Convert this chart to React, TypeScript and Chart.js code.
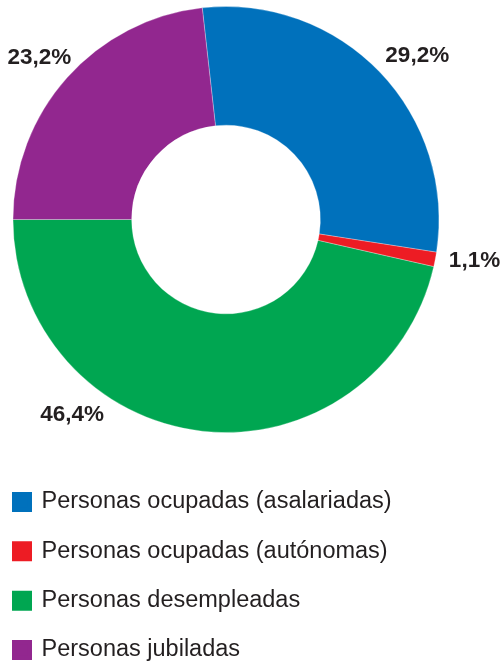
import React, { useEffect, useRef } from 'react';
import { Chart, registerables } from 'chart.js';

Chart.register(...registerables);

const categories = [
  'Personas ocupadas (asalariadas)',
  'Personas ocupadas (autónomas)',
  'Personas desempleadas',
  'Personas jubiladas',
];
const values = [29.2, 1.1, 46.4, 23.2];
const valueLabels = ['29,2%', '1,1%', '46,4%', '23,2%'];
const colors = ['#0071BC', '#ED1C24', '#00A651', '#92278F'];
// where each percentage label sits along its slice (fraction of the arc) and how far outside
const labelFractions = [0.53, 0.18, 0.69, 0.49];
const labelOffsets = [39, 39, 36, 34];

const FONT = '"Liberation Sans", Arial, Helvetica, sans-serif';
const TEXT_COLOR = '#231F20';

const outerLabels = {
  id: 'outerLabels',
  afterDatasetsDraw(chart: any) {
    const ctx = chart.ctx;
    const meta = chart.getDatasetMeta(0);
    ctx.save();
    ctx.font = `bold 22.5px ${FONT}`;
    ctx.fillStyle = TEXT_COLOR;
    ctx.textAlign = 'center';
    ctx.textBaseline = 'middle';
    meta.data.forEach((arc: any, i: number) => {
      const { x, y, startAngle, endAngle, outerRadius } = arc.getProps(
        ['x', 'y', 'startAngle', 'endAngle', 'outerRadius'],
        true
      );
      const a = startAngle + (endAngle - startAngle) * labelFractions[i];
      const r = outerRadius + labelOffsets[i];
      ctx.fillText(valueLabels[i], x + Math.cos(a) * r, y + Math.sin(a) * r);
    });
    ctx.restore();
  },
};

export default function App() {
  const ref = useRef<HTMLCanvasElement>(null);

  useEffect(() => {
    document.body.style.margin = '0';
    const chart = new Chart(ref.current as HTMLCanvasElement, {
      type: 'doughnut',
      data: {
        labels: categories,
        datasets: [
          {
            data: values,
            backgroundColor: colors,
            borderColor: 'rgba(255,255,255,0.7)',
            borderWidth: 0.4,
          },
        ],
      },
      options: {
        animation: false,
        responsive: true,
        maintainAspectRatio: false,
        radius: 213,
        cutout: '44.3%',
        rotation: -6.4,
        layout: {
          padding: { left: 8.42, right: 36.42, top: 4.58, bottom: 0.25 },
        },
        plugins: {
          tooltip: { enabled: false },
          legend: {
            position: 'bottom',
            align: 'start',
            labels: {
              boxWidth: 15.5,
              boxHeight: 15.5,
              padding: 25.83,
              color: TEXT_COLOR,
              font: { size: 23.5, family: FONT },
              generateLabels: () =>
                categories.map((c, i) => ({
                  text: c,
                  fillStyle: colors[i],
                  strokeStyle: colors[i],
                  lineWidth: 4.5,
                  lineJoin: 'miter',
                  fontColor: TEXT_COLOR,
                  hidden: false,
                  index: i,
                })),
            },
          },
        },
      } as any,
      plugins: [outerLabels],
    });
    return () => chart.destroy();
  }, []);

  return (
    <div style={{ position: 'fixed', left: -20, top: -30, width: 520, height: 702 }}>
      <canvas ref={ref} />
    </div>
  );
}
